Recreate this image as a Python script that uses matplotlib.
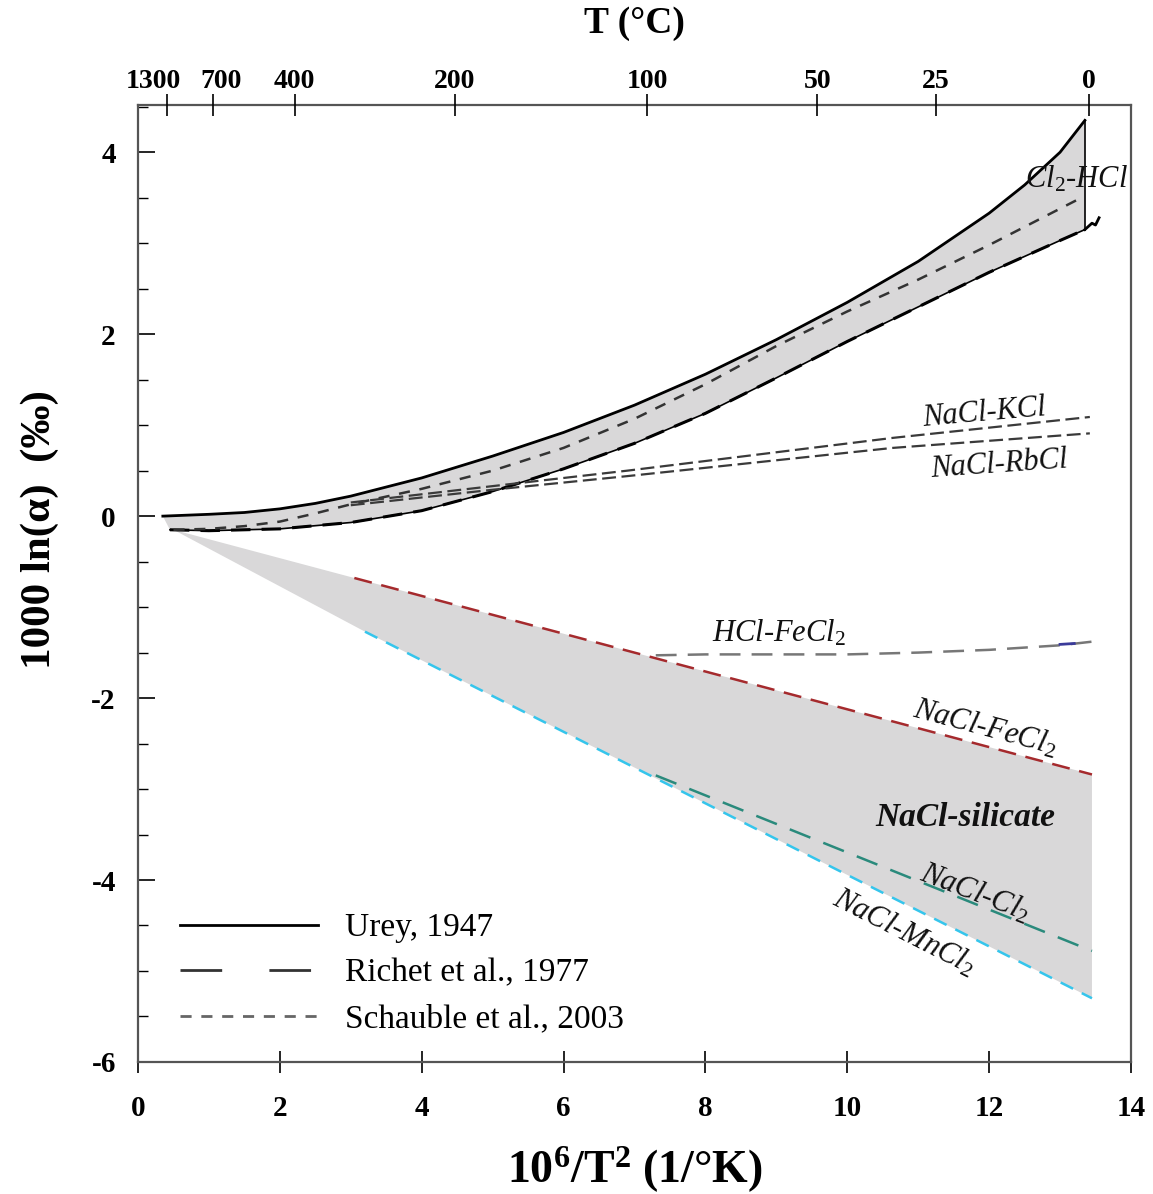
import numpy as np
import matplotlib.pyplot as plt
import matplotlib.transforms as mtransforms
from matplotlib.lines import Line2D
from matplotlib.ticker import MultipleLocator

plt.rcParams['font.family'] = ['Liberation Serif', 'DejaVu Serif']
plt.rcParams['mathtext.fontset'] = 'custom'
plt.rcParams['mathtext.rm'] = 'Liberation Serif'
plt.rcParams['mathtext.it'] = 'Liberation Serif:italic'
plt.rcParams['mathtext.bf'] = 'Liberation Serif:bold'
plt.rcParams['lines.scale_dashes'] = False
plt.rcParams['axes.unicode_minus'] = False

# Cl2-HCl band (10^6/T^2 vs 1000 ln alpha)
urey_x = [0.35, 1, 1.5, 2, 2.5, 3, 4, 5, 6, 7, 8, 9, 10, 11, 12, 12.5, 13, 13.35]
urey_y = [0.0, 0.02, 0.04, 0.08, 0.14, 0.22, 0.42, 0.66, 0.92, 1.22, 1.56, 1.94, 2.35, 2.80,
          3.33, 3.64, 4.0, 4.35]
richet_x = [0.45, 1, 2, 3, 4, 5, 6, 7, 8, 9, 10, 11, 12, 13, 13.35]
richet_y = [-0.15, -0.16, -0.14, -0.07, 0.06, 0.27, 0.52, 0.80, 1.13, 1.52, 1.92, 2.30, 2.68, 3.03, 3.15]
richet_tail_x = [13.35, 13.45, 13.5, 13.55]
richet_tail_y = [3.15, 3.22, 3.20, 3.28]
schauble_x = [0.5, 1, 1.5, 2, 2.5, 3, 4, 5, 6, 7, 8, 9, 10, 11, 12, 13, 13.3]
schauble_y = [-0.15, -0.14, -0.11, -0.06, 0.03, 0.13, 0.30, 0.50, 0.75, 1.07, 1.45, 1.87, 2.25, 2.60, 2.98, 3.38, 3.50]

# other pairs
kcl_x = [3.0, 5.0, 6.9, 10.64, 13.42]
kcl_y = [0.15, 0.33, 0.50, 0.86, 1.09]
rbcl_x = [3.0, 5.0, 6.9, 10.64, 13.42]
rbcl_y = [0.12, 0.29, 0.44, 0.75, 0.91]
hcl_fecl2_x = [7.3, 8.0, 9.0, 10.0, 11.0, 12.0, 13.0, 13.45]
hcl_fecl2_y = [-1.53, -1.52, -1.52, -1.52, -1.50, -1.47, -1.42, -1.38]
nacl_fecl2_x = [3.05, 13.45]
nacl_fecl2_y = [-0.68, -2.84]
nacl_cl2_x = [7.3, 13.45]
nacl_cl2_y = [-2.85, -4.78]
nacl_mncl2_x = [3.2, 13.45]
nacl_mncl2_y = [-1.27, -5.30]
silicate_apex = (0.5, -0.15)

temp_ticks_c = [1300, 700, 400, 200, 100, 50, 25, 0]

fig = plt.figure(figsize=(11.53, 11.94), dpi=100)
ax = fig.add_axes([0.1197, 0.1106, 0.8612, 0.8015])

band_c = '#d9d8d9'
# NaCl-silicate wedge
wx = [silicate_apex[0]] + nacl_fecl2_x + nacl_mncl2_x[::-1]
wy = [silicate_apex[1]] + nacl_fecl2_y + nacl_mncl2_y[::-1]
ax.fill(wx, wy, color=band_c, lw=0, zorder=1)

# Cl2-HCl band
ax.fill(urey_x + richet_x[::-1], urey_y + richet_y[::-1], color=band_c, lw=0, zorder=1)
ax.plot(urey_x, urey_y, color='black', lw=2.0, zorder=3)
ax.plot(richet_x, richet_y, color='black', lw=1.2, zorder=3)
ax.plot(richet_x, richet_y, color='black', lw=2.2, dashes=(14, 8), zorder=3)
ax.plot(richet_tail_x, richet_tail_y, color='black', lw=2.0, zorder=3)
ax.plot([urey_x[-1], richet_x[-1]], [urey_y[-1], richet_y[-1]], color='black', lw=1.2, zorder=3)
ax.plot(schauble_x, schauble_y, color='#333333', lw=1.8, dashes=(8, 7), zorder=3)

ax.plot(kcl_x, kcl_y, color='#3a3a3a', lw=1.6, dashes=(10, 4), zorder=3)
ax.plot(rbcl_x, rbcl_y, color='#3a3a3a', lw=1.6, dashes=(10, 4), zorder=3)
ax.plot(hcl_fecl2_x, hcl_fecl2_y, color='#777777', lw=1.8, dashes=(15, 8), zorder=3)
ax.plot([13.0, 13.2], [-1.41, -1.40], color='#3b3b9a', lw=2, zorder=4)
ax.plot(nacl_fecl2_x, nacl_fecl2_y, color='#a52a2d', lw=1.8, dashes=(13, 7), zorder=3)
ax.plot(nacl_cl2_x, nacl_cl2_y, color='#2a8a7c', lw=1.8, dashes=(16, 10), zorder=3)
ax.plot(nacl_mncl2_x, nacl_mncl2_y, color='#35c5ec', lw=1.8, dashes=(10, 7), zorder=3)

lab = dict(style='italic', fontsize=22, color='#111111', zorder=5)
ax.text(12.5, 3.7, 'Cl$_2$-HCl', ha='left', va='center', clip_on=False, **lab)
ax.text(11.93, 1.13, 'NaCl-KCl', ha='center', va='center', rotation=5, **lab)
ax.text(12.14, 0.56, 'NaCl-RbCl', ha='center', va='center', rotation=4, **lab)
ax.text(9.04, -1.29, 'HCl-FeCl$_2$', ha='center', va='center', **lab)
ax.text(11.94, -2.33, 'NaCl-FeCl$_2$', ha='center', va='center', rotation=-15, **lab)
ax.text(11.66, -3.31, 'NaCl-silicate', ha='center', va='center', style='italic',
        fontweight='bold', fontsize=24, color='#111111', zorder=5)
ax.text(11.8, -4.14, 'NaCl-Cl$_2$', ha='center', va='center', rotation=-21, **lab)
ax.text(10.81, -4.57, 'NaCl-MnCl$_2$', ha='center', va='center', rotation=-27, **lab)

ax.set_xlim(0, 14)
ax.set_ylim(-6, 4.52)
ax.xaxis.set_major_locator(MultipleLocator(2))
ax.yaxis.set_major_locator(MultipleLocator(2))
ax.yaxis.set_minor_locator(MultipleLocator(0.5))
ax.tick_params(axis='x', direction='inout', length=16, width=1.2, pad=16,
               labelsize=21, colors='black')
ax.tick_params(axis='y', which='major', direction='in', length=12, width=1.2, pad=16,
               labelsize=21)
ax.tick_params(axis='y', which='minor', direction='in', length=7, width=1.0)
for t in ax.get_xticklabels() + ax.get_yticklabels():
    t.set_fontweight('bold')
for s in ax.spines.values():
    s.set_color('#555555')
    s.set_linewidth(1.6)

ax.set_xlabel('10$^{\\mathbf{6}}$/T$^{\\mathbf{2}}$ (1/°K)', fontsize=33, fontweight='bold',
              va='center')
ax.xaxis.set_label_coords(0.5, -0.113)
ax.set_ylabel('1000 ln(α)  (‰)', fontsize=31, fontweight='bold', va='center')
ax.yaxis.set_label_coords(-0.099, 0.556)

top = ax.twiny()
top.set_xlim(ax.get_xlim())
top.set_xticks([1e6 / (t + 273.15) ** 2 for t in temp_ticks_c])
top.set_xticklabels([str(t) for t in temp_ticks_c], fontsize=20, fontweight='bold')
top.tick_params(axis='x', direction='inout', length=16, width=1.2, pad=0)
top.set_xlabel('T (°C)', fontsize=27, fontweight='bold', va='center')
top.xaxis.set_label_coords(0.5, 1.085)
for s in top.spines.values():
    s.set_visible(False)
# nudge the two crowded high-T labels apart, as in the original
labels = top.get_xticklabels()
for lbl, dx in ((labels[0], -13), (labels[1], 8)):
    lbl.set_transform(lbl.get_transform() +
                      mtransforms.ScaledTranslation(dx / 100, 0, fig.dpi_scale_trans))

handles = [
    Line2D([], [], color='black', lw=2.0),
    Line2D([], [], color='#333333', lw=2.0, dashes=(30, 34)),
    Line2D([], [], color='#666666', lw=2.0, dashes=(8, 7)),
]
ax.legend(handles, ['Urey, 1947', 'Richet et al., 1977', 'Schauble et al., 2003'],
          loc='lower left', bbox_to_anchor=(0.029, 0.015), borderaxespad=0,
          frameon=False, fontsize=24, handlelength=4.14, handletextpad=0.8,
          labelspacing=0.45)

fig.savefig('out.png', dpi=100)
